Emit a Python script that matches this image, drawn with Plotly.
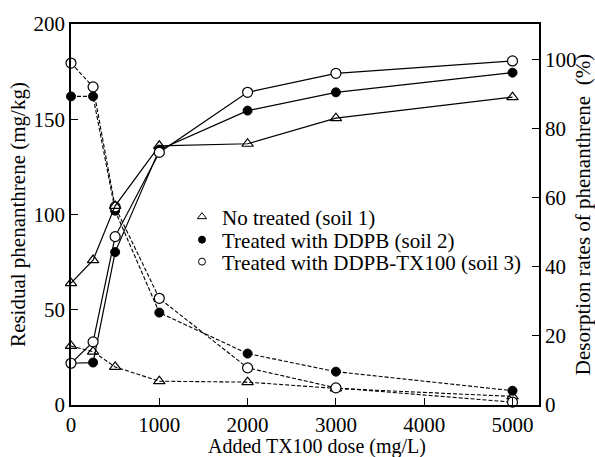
import plotly.graph_objects as go

# Data
dose = [0, 250, 500, 1000, 2000, 3000, 5000]
# Residual phenanthrene (mg/kg) - left axis, dashed
res_soil1 = [31, 28, 20, 12.5, 12, 8.7, 4.5]
res_soil2 = [162, 162, 102, 48.5, 27, 17.5, 7.5]
res_soil3 = [179.5, 167, 104, 56, 19.5, 9, 1.5]
# Desorption rates (%) - right axis, solid
des_soil1 = [35.3, 42, 57.7, 75.1, 75.7, 83.1, 89.2]
des_soil2 = [12.1, 12.3, 44.3, 74, 85.3, 90.6, 96.3]
des_soil3 = [12.1, 18.3, 48.8, 73.2, 90.6, 96.1, 99.7]

labels = ["No treated (soil 1)", "Treated with DDPB (soil 2)", "Treated with DDPB-TX100 (soil 3)"]
x_ticks = [0, 1000, 2000, 3000, 4000, 5000]
x_title = "Added TX100 dose (mg/L)"

FONT = "Liberation Serif"
FS = 21
BLACK = "black"

markers = [
    dict(symbol="triangle-up-open", size=10, color=BLACK, line=dict(width=1.2, color=BLACK)),
    dict(symbol="circle", size=9, color=BLACK, line=dict(width=1, color=BLACK)),
    dict(symbol="circle", size=10, color="white", line=dict(width=1.2, color=BLACK)),
]

fig = go.Figure()

res = [res_soil1, res_soil2, res_soil3]
des = [des_soil1, des_soil2, des_soil3]

for i in range(3):
    fig.add_trace(go.Scatter(
        x=dose, y=res[i], mode="lines+markers", yaxis="y",
        line=dict(color=BLACK, width=1.1, dash="4px,2px"),
        marker=markers[i], showlegend=False, cliponaxis=False))
for i in range(3):
    fig.add_trace(go.Scatter(
        x=dose, y=des[i], mode="lines+markers", yaxis="y2",
        line=dict(color=BLACK, width=1.2),
        marker=markers[i], showlegend=False, cliponaxis=False))

leg_markers = [
    dict(symbol="triangle-up-open", size=8, color=BLACK, line=dict(width=1, color=BLACK)),
    dict(symbol="circle", size=7, color=BLACK, line=dict(width=1, color=BLACK)),
    dict(symbol="circle-open", size=7, color=BLACK, line=dict(width=1, color=BLACK)),
]
legend_names = ["legend", "legend2", "legend3"]
for i in range(3):
    fig.add_trace(go.Scatter(
        x=[None], y=[None], mode="markers", name=labels[i],
        marker=leg_markers[i], showlegend=True, legend=legend_names[i]))

def leg(ypx):
    return dict(x=(182 - 71) / 468, y=(405 - ypx) / 381, xanchor="left", yanchor="middle",
                bgcolor="rgba(0,0,0,0)", font=dict(family=FONT, size=FS, color=BLACK),
                itemwidth=30, borderwidth=0)

fig.update_layout(
    width=595, height=457,
    margin=dict(l=71, r=56, t=24, b=52, autoexpand=False),
    paper_bgcolor="white", plot_bgcolor="white",
    font=dict(family=FONT, size=FS, color=BLACK),
    legend=leg(217), legend2=leg(240), legend3=leg(262),
    xaxis=dict(range=[0, 5300], tickvals=x_ticks, ticks="inside", ticklen=7,
               tickcolor=BLACK, tickwidth=1.3, showline=True, linecolor=BLACK, linewidth=1.8,
               mirror=True, showgrid=False, zeroline=False, automargin=False,
               tickfont=dict(family=FONT, size=FS)),
    xaxis2=dict(range=[0, 5300], overlaying="x", side="top", anchor="y", dtick=500, tick0=0,
                ticks="inside", ticklen=6, tickcolor=BLACK, tickwidth=1.3, automargin=False,
                showticklabels=False, showgrid=False, zeroline=False, showline=False),
    yaxis=dict(range=[0, 200], dtick=50, ticks="inside", ticklen=7, tickcolor=BLACK,
               tickwidth=1.3, showline=True, linecolor=BLACK, linewidth=1.8,
               showgrid=False, zeroline=False, automargin=False,
               title=dict(text="Residual phenanthrene (mg/kg)", standoff=2,
                          font=dict(family=FONT, size=FS)),
               tickfont=dict(family=FONT, size=FS)),
    yaxis2=dict(range=[0, 110.4], tickvals=[0, 20, 40, 60, 80, 100], overlaying="y", side="right",
                ticks="inside", ticklen=7, tickcolor=BLACK, tickwidth=1.3, automargin=False,
                showline=True, linecolor=BLACK, linewidth=1.8, showgrid=False, zeroline=False,
                title=dict(text="Desorption rates of phenanthrene  (%)", standoff=6,
                           font=dict(family=FONT, size=FS)),
                tickfont=dict(family=FONT, size=FS)),
    annotations=[dict(text=x_title, xref="paper", yref="paper",
                      x=(317 - 71) / 468, y=(405 - 446) / 381,
                      xanchor="center", yanchor="middle", showarrow=False,
                      font=dict(family=FONT, size=20, color=BLACK))],
)

fig.write_html("out.html")
